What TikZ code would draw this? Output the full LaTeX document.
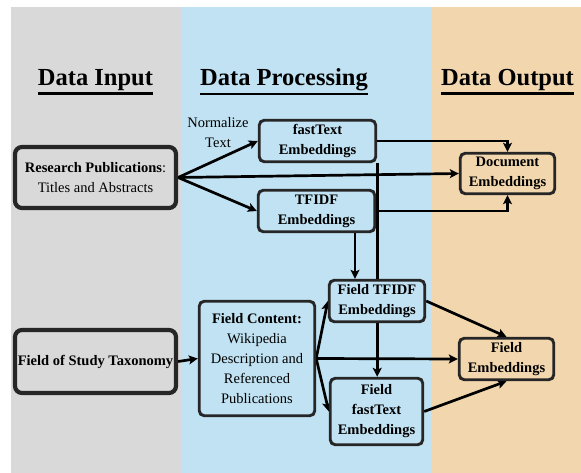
\documentclass[tikz,border=0pt]{standalone}
\usepackage{fontspec}
\setmainfont{LiberationSerif}[Extension=.ttf, UprightFont=*-Regular, BoldFont=*-Bold, ItalicFont=*-Italic, BoldItalicFont=*-BoldItalic]
\usetikzlibrary{arrows.meta}

\definecolor{inbg}{HTML}{D9D9D9}
\definecolor{procbg}{HTML}{C0E2F2}
\definecolor{outbg}{HTML}{F2D7AE}
\definecolor{edgec}{HTML}{262626}

\pgfdeclarelayer{bg}
\pgfdeclarelayer{edges}
\pgfsetlayers{bg,edges,main}

\begin{document}
\begin{tikzpicture}[x=1pt,y=-1pt,
  box/.style={draw=edgec, rounded corners=5pt, line width=2.9pt, align=center,
    inner sep=0pt, font=\fontsize{14.5}{20}\selectfont},
  bigbox/.style={box, line width=4.2pt, rounded corners=7pt},
  arr/.style={line width=2.7pt, -{Stealth[length=9pt,width=9pt,inset=2pt]}},
  head/.style={font=\fontsize{24.5}{28}\selectfont\bfseries, inner sep=0pt, anchor=base},
  lbl/.style={align=center, inner sep=0pt, font=\fontsize{14.5}{20}\selectfont},
  bf/.style={font=\fontsize{14.5}{20}\selectfont\bfseries}
]
\useasboundingbox (0,0) rectangle (581,473);

% column backgrounds
\begin{pgfonlayer}{bg}
  \fill[inbg]   (11,7)  rectangle (181,473);
  \fill[procbg] (181,7) rectangle (432,473);
  \fill[outbg]  (432,7) rectangle (581,473);
\end{pgfonlayer}

% column headings
\node[head] (hin)  at (95.5,86)  {Data Input};
\node[head] (hpro) at (284,86)   {Data Processing};
\node[head] (hout) at (507.5,86) {Data Output};
\foreach \h in {hin,hpro,hout}
  \draw[line width=2.2pt] ([yshift=-2pt]\h.south west) -- ([yshift=-2pt]\h.south east);

% input boxes
\node[bigbox, fill=inbg, minimum width=161pt, minimum height=61pt] (rp) at (95.5,177.5)
  {\textbf{Research Publications}:\\Titles and Abstracts};
\node[bigbox, fill=inbg, minimum width=161pt, minimum height=63pt] (fst) at (95.5,361.5)
  {\textbf{Field of Study Taxonomy}};

% processing boxes
\node[box, bf, fill=procbg, minimum width=116.5pt, minimum height=41.5pt] (ft) at (317.5,141)
  {fastText\\Embeddings};
\node[box, bf, fill=procbg, minimum width=116.5pt, minimum height=41.5pt] (tf) at (316.5,211)
  {TFIDF\\Embeddings};
\node[box, fill=procbg, minimum width=115.5pt, minimum height=114.5pt] (fc) at (257,358.5)
  {\textbf{Field Content:}\\Wikipedia\\Description and\\Referenced\\Publications};
\node[box, bf, fill=procbg, minimum width=95.5pt, minimum height=41.5pt] (ftf) at (377,301)
  {Field TFIDF\\Embeddings};
\node[box, bf, fill=procbg, minimum width=92.5pt, minimum height=66.5pt] (fft) at (376.5,411.5)
  {Field\\fastText\\Embeddings};

% output boxes
\node[box, bf, fill=outbg, minimum width=94.5pt, minimum height=40.5pt] (doc) at (507.5,173.5)
  {Document\\Embeddings};
\node[box, bf, fill=outbg, minimum width=94.5pt, minimum height=41.5pt] (fe) at (506.5,359)
  {Field\\Embeddings};

% label
\node[lbl] (norm) at (218,133) {Normalize\\Text};

\coordinate (tfx) at (355,0);

% connectors
\begin{pgfonlayer}{edges}
  \draw[arr] (rp.east) -- (ft.west);
  \draw[arr] (rp.east) -- (tf.west);
  \draw[arr] (rp.east) -- (doc.west);
  \draw[arr] (ft.east) -| (doc.north);
  \draw[arr] (tf.east) -| (doc.south);
  \draw[arr] (ft.south east) -- (ft.south east |- fft.north);
  \draw[arr] (tf.south -| tfx) -- (ftf.north -| tfx);
  \draw[arr] (fst.east) -- (fc.west);
  \draw[arr] (fc.east) -- (ftf.west);
  \draw[arr] (fc.east) -- (fft.west);
  \draw[arr] (fc.east) -- (fe.west);
  \draw[arr] (ftf.east) -- (fe.north);
  \draw[arr] (fft.east) -- (fe.south);
\end{pgfonlayer}
\end{tikzpicture}
\end{document}
